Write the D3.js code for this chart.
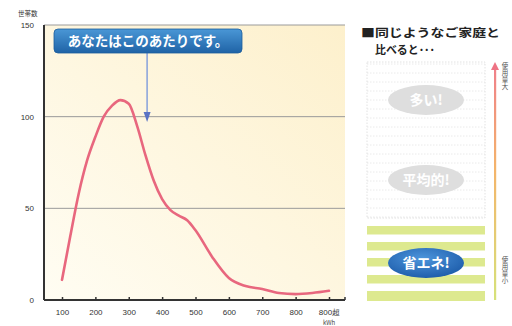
<!DOCTYPE html>
<html><head><meta charset="utf-8">
<script src="https://cdn.jsdelivr.net/npm/d3@7"></script>
<style>
html,body{margin:0;padding:0;background:#fff;}
svg{display:block;font-family:"Noto Sans CJK JP","Noto Sans",sans-serif;}
</style></head>
<body>
<svg id="c" width="512" height="326"></svg>
<script>
// ---- data ----
const kwh = [100,125,150,175,200,225,250,275,300,325,350,375,400,425,450,475,500,550,600,650,700,750,800,850,900];
const households = [11,35,58,76,89,100,106,109,107,95,79,65,55,49,46,43.5,38,23.5,12,7.6,6,3.8,3.2,3.8,5];
const xTickValues = [100,200,300,400,500,600,700,800,900];
const xTickLabels = ["100","200","300","400","500","600","700","800","800超"];
const yTickValues = [0,50,100,150];
const levelLabels = ["多い!","平均的!","省エネ!"];
const calloutText = "あなたはこのあたりです。";
const calloutKwh = 355;
const scaleTop = "使用量大";
const scaleBottom = "使用量小";

const svg = d3.select("#c");
const defs = svg.append("defs");

// plot frame
const L = 44, R = 345, T = 25, B = 300;
const x = d3.scaleLinear().domain([100, 900]).range([62, 329]);
const y = d3.scaleLinear().domain([0, 150]).range([B, T]);

const bg = defs.append("linearGradient").attr("id","bg").attr("x1","0").attr("x2","1").attr("y1","1").attr("y2","0");
bg.append("stop").attr("offset","0").attr("stop-color","#fffdf3");
bg.append("stop").attr("offset","1").attr("stop-color","#fdf0cc");
svg.append("rect").attr("x",L).attr("y",T).attr("width",R-L).attr("height",B-T).attr("fill","url(#bg)");

// grid
svg.append("g").selectAll("line").data(yTickValues.filter(d=>d>0)).join("line")
  .attr("x1",L).attr("x2",R).attr("y1",d=>y(d)).attr("y2",d=>y(d))
  .attr("stroke","#9a9a9a").attr("stroke-width",1);

// y labels
svg.append("g").selectAll("text").data(yTickValues).join("text")
  .attr("x",34).attr("y",d=>y(d)+3).attr("text-anchor","end")
  .attr("font-size",8).attr("fill","#333").attr("font-family","Liberation Sans, Arial, sans-serif")
  .text(d=>d);
svg.append("text").attr("x",18).attr("y",16).attr("font-size",6.5).attr("fill","#333").text("世帯数");

// axes lines
svg.append("line").attr("x1",L).attr("x2",L).attr("y1",T).attr("y2",B).attr("stroke","#333").attr("stroke-width",2);
svg.append("line").attr("x1",L).attr("x2",R).attr("y1",B).attr("y2",B).attr("stroke","#333").attr("stroke-width",2);

const xAxis = d3.axisBottom(x).tickValues(xTickValues).tickSizeInner(-3).tickSizeOuter(0)
  .tickFormat((d,i)=>xTickLabels[i]);
const gx = svg.append("g").attr("transform",`translate(0,${B})`).call(xAxis);
gx.select(".domain").remove();
gx.selectAll(".tick line").attr("stroke","#333").attr("stroke-width",1.5);
gx.selectAll(".tick text").attr("y",9).attr("font-size",8).attr("fill","#333")
  .attr("font-family","Liberation Sans, Arial, sans-serif");
svg.append("line").attr("x1",R).attr("x2",R).attr("y1",B).attr("y2",B-3).attr("stroke","#333").attr("stroke-width",1.5);
svg.append("text").attr("x",x(900)).attr("y",325).attr("text-anchor","middle").attr("font-size",6).attr("fill","#444").text("kWh");

// curve
const line = d3.line().x((d,i)=>x(kwh[i])).y(d=>y(d)).curve(d3.curveMonotoneX);
svg.append("path").datum(households).attr("d",line).attr("fill","none")
  .attr("stroke","#e8677e").attr("stroke-width",2.6).attr("stroke-linecap","round");

// callout
const cg = defs.append("linearGradient").attr("id","cg").attr("x1","0").attr("x2","0").attr("y1","0").attr("y2","1");
cg.append("stop").attr("offset","0").attr("stop-color","#4a97d6");
cg.append("stop").attr("offset","1").attr("stop-color","#1f63a6");
const ax = x(calloutKwh);
svg.append("line").attr("x1",ax).attr("x2",ax).attr("y1",53).attr("y2",114)
  .attr("stroke","#8ea6dc").attr("stroke-width",1.6);
svg.append("path").attr("d",`M${ax-3.5},${112}L${ax+3.5},${112}L${ax},${122}Z`).attr("fill","#5a73c4");
svg.append("rect").attr("x",54).attr("y",29).attr("width",188).attr("height",24).attr("rx",4)
  .attr("fill","url(#cg)").attr("stroke","#1d5d9c").attr("stroke-width",0.8);
svg.append("text").attr("x",148).attr("y",46).attr("text-anchor","middle").attr("font-size",13.5)
  .attr("font-weight","bold").attr("fill","#fff").text(calloutText);

// right panel
svg.append("text").attr("x",361).attr("y",37).attr("font-size",11.5).attr("font-weight","bold").attr("fill","#222")
  .attr("textLength",139).attr("lengthAdjust","spacingAndGlyphs").text("■同じようなご家庭と");
svg.append("text").attr("x",375).attr("y",54).attr("font-size",11.5).attr("font-weight","bold").attr("fill","#222")
  .attr("textLength",60).attr("lengthAdjust","spacingAndGlyphs").text("比べると･･･");

const bx0 = 367, bx1 = 485;
// dotted lines upper region
const dots = d3.range(64, 220, 9);
svg.append("g").selectAll("line").data(dots).join("line")
  .attr("x1",bx0).attr("x2",bx1).attr("y1",d=>d).attr("y2",d=>d)
  .attr("stroke","#e4e4e4").attr("stroke-width",0.8).attr("stroke-dasharray","1.5,1.5");
svg.append("rect").attr("x",bx0).attr("y",62).attr("width",bx1-bx0).attr("height",156)
  .attr("fill","none").attr("stroke","#e2e2e2").attr("stroke-dasharray","1.5,1.5");
// stripes
const stripes = [226,242,258,275,291];
svg.append("g").selectAll("rect").data(stripes).join("rect")
  .attr("x",bx0).attr("width",bx1-bx0).attr("y",d=>d).attr("height",(d,i)=>i===4?10:8.5)
  .attr("fill","#dde98f");

// ellipses
const eg = defs.append("radialGradient").attr("id","eg").attr("cx","0.45").attr("cy","0.35").attr("r","0.7");
eg.append("stop").attr("offset","0").attr("stop-color","#4d95dc");
eg.append("stop").attr("offset","1").attr("stop-color","#1b5aa8");
const ell = [{cy:100,fill:"#dedede"},{cy:180,fill:"#dedede"},{cy:263,fill:"url(#eg)"}];
svg.append("g").selectAll("ellipse").data(ell).join("ellipse")
  .attr("cx",426).attr("cy",d=>d.cy).attr("rx",38).attr("ry",15).attr("fill",d=>d.fill);
svg.append("g").selectAll("text").data(levelLabels).join("text")
  .attr("x",426).attr("y",(d,i)=>ell[i].cy+5).attr("text-anchor","middle")
  .attr("font-size",14).attr("font-weight","bold").attr("fill","#fff").text(d=>d);

// vertical gradient arrow
const vg = defs.append("linearGradient").attr("id","vg").attr("gradientUnits","userSpaceOnUse")
  .attr("x1",0).attr("x2",0).attr("y1",62).attr("y2",300);
vg.append("stop").attr("offset","0").attr("stop-color","#ef7d8c");
vg.append("stop").attr("offset","0.45").attr("stop-color","#f4b46a");
vg.append("stop").attr("offset","1").attr("stop-color","#d6e27a");
svg.append("rect").attr("x",494).attr("y",66).attr("width",2.2).attr("height",234).attr("fill","url(#vg)");
svg.append("path").attr("d","M491,70L499,70L495,62Z").attr("fill","#ee7384");

// vertical labels (vertical writing mode, upright glyphs)
function vtext(str, y0) {
  svg.append("text").attr("x",505).attr("y",y0).attr("font-size",6.5).attr("fill","#555")
    .style("writing-mode","vertical-rl").style("text-orientation","upright")
    .attr("letter-spacing",0.6).text(str);
}
vtext(scaleTop, 62);
vtext(scaleBottom, 256);
</script>
</body></html>
